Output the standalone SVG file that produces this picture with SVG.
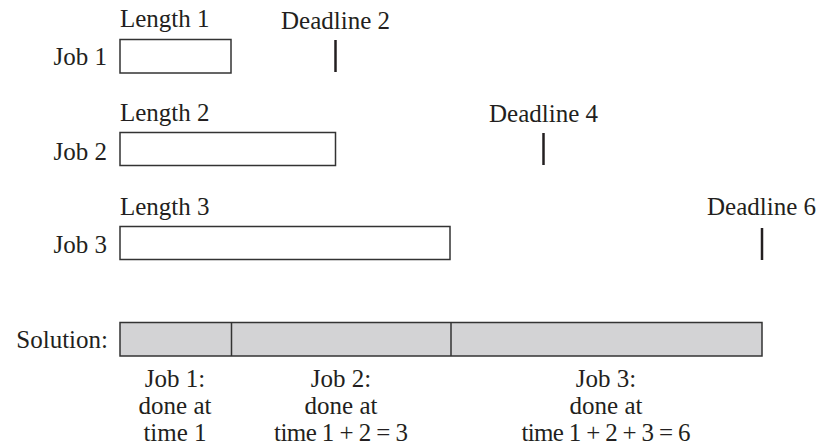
<svg xmlns="http://www.w3.org/2000/svg" width="819" height="445" viewBox="0 0 819 445">
<style>
text{font-family:"Liberation Serif","Times New Roman",serif;font-size:25px;fill:#231f20}
.c{text-anchor:middle}
.r{text-anchor:end}
.box{fill:#fff;stroke:#333;stroke-width:1.5}
.sol{fill:#d3d3d5;stroke:#333;stroke-width:1.5}
.tick{stroke:#231f20;stroke-width:2.5}
</style>
<rect width="819" height="445" fill="#fff"/>
<g id="job1">
<text x="107" y="65" class="r">Job 1</text>
<text x="120" y="27">Length 1</text>
<rect class="box" x="120" y="39.5" width="111" height="33.5"/>
</g>
<g id="deadline2">
<text x="281" y="29">Deadline 2</text>
<line class="tick" x1="335.5" y1="40" x2="335.5" y2="72"/>
</g>
<g id="job2">
<text x="107" y="160" class="r">Job 2</text>
<text x="120" y="121">Length 2</text>
<rect class="box" x="120" y="132.5" width="215.5" height="33"/>
</g>
<g id="deadline4">
<text x="489" y="122">Deadline 4</text>
<line class="tick" x1="543.5" y1="133" x2="543.5" y2="165"/>
</g>
<g id="job3">
<text x="107" y="253" class="r">Job 3</text>
<text x="120" y="215">Length 3</text>
<rect class="box" x="120" y="226.5" width="330" height="33"/>
</g>
<g id="deadline6">
<text x="707" y="215">Deadline 6</text>
<line class="tick" x1="762" y1="228" x2="762" y2="260"/>
</g>
<g id="solution">
<text x="108" y="348" class="r">Solution:</text>
<rect class="sol" x="120" y="322.5" width="642" height="33.5"/>
</g>
<g id="connectors">
<line x1="231.5" y1="322.5" x2="231.5" y2="356" stroke="#333" stroke-width="1.5"/>
<line x1="451" y1="322.5" x2="451" y2="356" stroke="#333" stroke-width="1.5"/>
</g>
<g id="sol-job1">
<text x="175" y="387" class="c">Job 1:</text>
<text x="175" y="414" class="c">done at</text>
<text x="175" y="441" class="c">time 1</text>
</g>
<g id="sol-job2">
<text x="341" y="387" class="c">Job 2:</text>
<text x="341" y="414" class="c">done at</text>
<text x="341" y="441" class="c" textLength="134" lengthAdjust="spacing">time 1 + 2 = 3</text>
</g>
<g id="sol-job3">
<text x="606" y="387" class="c">Job 3:</text>
<text x="606" y="414" class="c">done at</text>
<text x="606" y="441" class="c" textLength="169" lengthAdjust="spacing">time 1 + 2 + 3 = 6</text>
</g>
</svg>
